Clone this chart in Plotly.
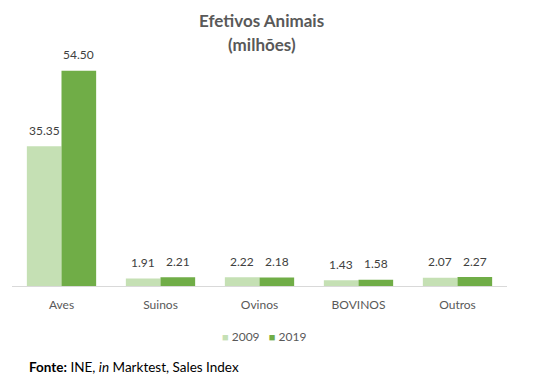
import plotly.graph_objects as go

categories = ["Aves", "Suinos", "Ovinos", "BOVINOS", "Outros"]
values_2009 = [35.35, 1.91, 2.22, 1.43, 2.07]
values_2019 = [54.50, 2.21, 2.18, 1.58, 2.27]
series_names = ["2009", "2019"]
series_colors = ["#C5E0B4", "#70AD47"]

font_family = "Lato, 'Open Sans', sans-serif"

fig = go.Figure()
for name, vals, col in zip(series_names, [values_2009, values_2019], series_colors):
    fig.add_trace(go.Bar(
        x=categories, y=vals, name=name,
        marker=dict(color=col, line=dict(width=0)),
        cliponaxis=False,
    ))

# Data labels via annotations anchored to the data values
bar_offsets = [-17.3, 17.3]
for vals, dx in zip([values_2009, values_2019], bar_offsets):
    for c, v in zip(categories, vals):
        fig.add_annotation(x=c, y=v, text=f"{v:.2f}", showarrow=False,
                           xshift=dx, yshift=16, xanchor="center", yanchor="middle",
                           font=dict(color="#404040", size=12, family=font_family))

fig.update_layout(
    width=549, height=387,
    margin=dict(l=4, r=50, t=41, b=109, autoexpand=False),
    paper_bgcolor="white", plot_bgcolor="white",
    barmode="group", bargap=0.30, bargroupgap=0,
    font=dict(family=font_family, color="#595959", size=12),
    xaxis=dict(
        showline=True, linecolor="#D9D9D9", linewidth=1,
        ticks="", tickfont=dict(size=12, color="#595959"),
        showgrid=False, automargin=False, ticklabelstandoff=8,
    ),
    yaxis=dict(
        range=[0, 60], visible=False, showgrid=False, zeroline=False,
    ),
    showlegend=False,
)

# Title (two lines)
fig.add_annotation(text="<b>Efetivos Animais</b>", xref="paper", yref="paper",
                   x=0.505, y=1.12, xanchor="center", yanchor="middle", showarrow=False,
                   font=dict(size=17, color="#595959", family=font_family))
fig.add_annotation(text="<b>(milhões)</b>", xref="paper", yref="paper",
                   x=0.505, y=1.017, xanchor="center", yanchor="middle", showarrow=False,
                   font=dict(size=17, color="#595959", family=font_family))

# Legend
legend_text = "&nbsp;&nbsp;&nbsp;".join(
    f"<span style='color:{c}; font-size:11px'>■</span> {n}" for n, c in zip(series_names, series_colors)
)
fig.add_annotation(text=legend_text, xref="paper", yref="paper",
                   x=0.510, y=-0.215, xanchor="center", yanchor="middle", showarrow=False,
                   font=dict(size=12, color="#595959", family=font_family))

# Source footer
fig.add_annotation(
    text="<b>Fonte:</b> INE, <i>in</i> Marktest, Sales Index",
    xref="paper", yref="paper", x=0.0303, y=-0.342, xanchor="left", yanchor="middle",
    showarrow=False, font=dict(size=13.5, color="#000000", family=font_family),
)

fig.write_html("out.html")
